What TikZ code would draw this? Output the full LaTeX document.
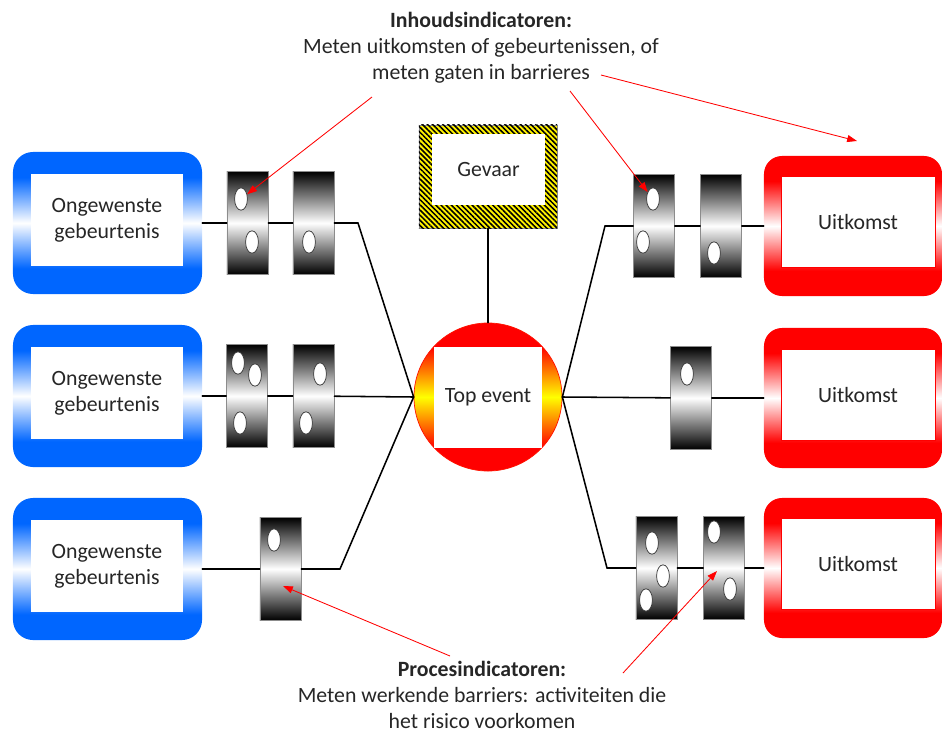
\documentclass[tikz,border=0pt]{standalone}
\usepackage{fontspec}
\setmainfont{Carlito}
\usetikzlibrary{shapes.geometric,patterns.meta,arrows.meta}
\definecolor{boxblue}{RGB}{0,102,255}
\definecolor{boxred}{RGB}{255,0,0}
\definecolor{topyellow}{RGB}{255,255,0}
\pgfdeclareverticalshading{bluefade}{100bp}{color(0bp)=(boxblue); color(34bp)=(boxblue); color(50bp)=(white); color(66bp)=(boxblue); color(100bp)=(boxblue)}
\pgfdeclareverticalshading{redfade}{100bp}{color(0bp)=(boxred); color(34bp)=(boxred); color(50bp)=(white); color(66bp)=(boxred); color(100bp)=(boxred)}
\pgfdeclareverticalshading{topfade}{100bp}{color(0bp)=(boxred); color(33bp)=(boxred); color(50bp)=(topyellow); color(67bp)=(boxred); color(100bp)=(boxred)}

\begin{document}
\begin{tikzpicture}[x=0.025cm, y=-0.025cm,
  every node/.style={font=\fontsize{15.5}{18.5}\selectfont, text=black!85},
  cause/.style={rectangle, rounded corners=0.5cm, minimum width=4.725cm, minimum height=3.55cm, shade, shading=bluefade},
  consequence/.style={rectangle, rounded corners=0.45cm, minimum width=4.45cm, minimum height=3.5cm, shade, shading=redfade},
  boxtext/.style={rectangle, fill=white, inner sep=0pt, minimum width=3.8cm, minimum height=2.3cm, align=center},
  outtext/.style={boxtext, draw=boxred, line width=0.6pt, minimum width=3.85cm, minimum height=2.275cm},
  barrier/.style={rectangle, draw=black!45, line width=0.5pt, inner sep=0pt, minimum width=1.025cm, minimum height=2.575cm, top color=black, bottom color=black, middle color=white},
  hole/.style={ellipse, draw=black!80, fill=white, line width=0.5pt, inner sep=0pt, minimum width=0.32cm, minimum height=0.56cm},
  hazard/.style={rectangle, draw=black!45, fill=yellow, postaction={pattern={Lines[angle=-45,distance=2.6pt,line width=1.1pt]}, pattern color=black}, minimum width=3.45cm, minimum height=2.575cm},
  event/.style={circle, draw=red!85!orange, line width=0.5pt, minimum size=3.7cm, shade, shading=topfade},
  note/.style={align=center, inner sep=0pt},
  link/.style={black, line width=1.1pt, line cap=round},
  pointer/.style={red, line width=0.6pt, -{Triangle[length=7pt,width=5pt]}}]
  \useasboundingbox (0,0) rectangle (943,731);

  \node[cause](c1) at (107.5,223) {};
  \node[boxtext](t1) at (107,220) {Ongewenste\\gebeurtenis};
  \node[cause](c2) at (107.5,396) {};
  \node[boxtext](t2) at (107,393) {Ongewenste\\gebeurtenis};
  \node[cause](c3) at (107.5,569) {};
  \node[boxtext](t3) at (107,566) {Ongewenste\\gebeurtenis};

  \node[consequence](u1) at (853,226) {};
  \node[outtext](v1) at (858,222) {Uitkomst};
  \node[consequence](u2) at (853,398) {};
  \node[outtext](v2) at (858,395) {Uitkomst};
  \node[consequence](u3) at (853,568) {};
  \node[outtext](v3) at (858,564) {Uitkomst};

  \node[hazard](g) at (488,176.5) {};
  \node[boxtext, minimum width=2.825cm, minimum height=1.775cm](gt) at (488.5,169.5) {Gevaar};

  \node[event](te) at (488,397) {};
  \node[boxtext, minimum width=2.7cm, minimum height=2.525cm](tt) at (488,397.5) {Top event};

  \node[barrier](l1a) at (247.5,223) {};
  \node[barrier](l1b) at (313.5,223) {};
  \node[barrier](l2a) at (247,396)   {};
  \node[barrier](l2b) at (313.5,396) {};
  \node[barrier](l3a) at (280.5,569) {};
  \node[barrier](r1a) at (654,226)   {};
  \node[barrier](r1b) at (721,226)   {};
  \node[barrier](r2a) at (691,398)   {};
  \node[barrier](r3a) at (656.5,568) {};
  \node[barrier](r3b) at (724,568)   {};

  \node[hole](h1)  at (241,199) {};
  \node[hole](h2)  at (252,242) {};
  \node[hole](h3)  at (309,242) {};
  \node[hole](h4)  at (238,363) {};
  \node[hole](h5)  at (255,375) {};
  \node[hole](h6)  at (240,423) {};
  \node[hole](h7)  at (320,374) {};
  \node[hole](h8)  at (306,423) {};
  \node[hole](h9)  at (274,540) {};
  \node[hole](h10) at (653,199) {};
  \node[hole](h11) at (643,242) {};
  \node[hole](h12) at (714,253) {};
  \node[hole](h13) at (687,374) {};
  \node[hole](h14) at (652,543) {};
  \node[hole](h15) at (663,576) {};
  \node[hole](h16) at (646,600) {};
  \node[hole](h17) at (714,532) {};
  \node[hole](h18) at (730,589) {};

  \coordinate (k1) at (358,223);
  \coordinate (k3) at (340,569);
  \coordinate (k4) at (605,226);
  \coordinate (k6) at (607,568);

  \path[link]
    (c1) edge (l1a)
    (l1a) edge (l1b)
    (l1b) edge (k1)
    (k1) edge (te.west)
    (c2) edge (l2a)
    (l2a) edge (l2b)
    (l2b) edge (te.west)
    (c3) edge (l3a)
    (l3a) edge (k3)
    (k3) edge (te.west)
    (te.east) edge (k4)
    (k4) edge (r1a)
    (r1a) edge (r1b)
    (r1b) edge (u1)
    (te.east) edge (r2a)
    (r2a) edge (u2)
    (te.east) edge (k6)
    (k6) edge (r3a)
    (r3a) edge (r3b)
    (r3b) edge (u3)
    (g) edge (te)
    ;

  \node[note](inh) at (481,48) {\textbf{Inhoudsindicatoren:}\\Meten uitkomsten of gebeurtenissen, of\\meten gaten in barrieres};
  \node[note](proc) at (482,695) {\textbf{Procesindicatoren:}\\Meten werkende barriers: activiteiten die\\het risico voorkomen};

  \coordinate (p1) at (372,97);
  \coordinate (p2) at (570,91);
  \coordinate (p3) at (601,75);
  \coordinate (q3) at (857,141);
  \coordinate (p4) at (450,656);
  \coordinate (q4) at (283,586);
  \coordinate (p5) at (623,673);
  \coordinate (q5) at (717,571);

  \path[pointer]
    (p1) edge (h1)
    (p2) edge (h10)
    (p3) edge (q3)
    (p4) edge (q4)
    (p5) edge (q5)
    ;
\end{tikzpicture}
\end{document}
